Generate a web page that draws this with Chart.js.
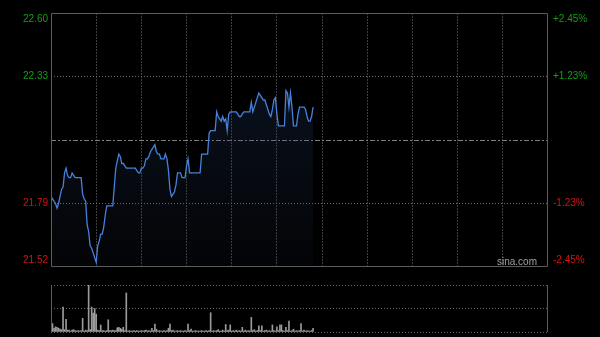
<!DOCTYPE html>
<html>
<head>
<meta charset="utf-8">
<script src="https://cdn.jsdelivr.net/npm/chart.js@4.4.1/dist/chart.umd.min.js"></script>
<style>
html, body { margin: 0; padding: 0; background: #000; }
#wrap { position: relative; width: 600px; height: 337px; background: #000; overflow: hidden; }
#priceChart { position: absolute; left: 0; top: 0; }
#volChart { position: absolute; left: 0; top: 280px; }
</style>
</head>
<body>
<div id="wrap">
  <canvas id="priceChart" width="600" height="280"></canvas>
  <canvas id="volChart" width="600" height="57"></canvas>
</div>
<script>
// HK session: 09:30-12:00 + 13:00-16:00 = 330 minutes, grid every 30 min
const sessionMinutes = 330;
const gridMinutes = [0, 30, 60, 90, 120, 150, 180, 210, 240, 270, 300, 330];

const prevClose = 22.06;
const priceTicks = [21.52, 21.79, 22.06, 22.33, 22.60];
const priceLabels = ['21.52', '21.79', '', '22.33', '22.60'];
const pctLabels = ['-2.45%', '-1.23%', '', '+1.23%', '+2.45%'];
const volTicks = [0, 50, 100];

// one value per minute
const prices = [
    21.82, 21.81, 21.80, 21.79, 21.77, 21.79, 21.82, 21.85, 21.86, 21.92,
    21.94, 21.91, 21.90, 21.90, 21.92, 21.91, 21.90, 21.90, 21.90, 21.90,
    21.90, 21.83, 21.81, 21.80, 21.70, 21.67, 21.61, 21.60, 21.58, 21.56,
    21.54, 21.61, 21.63, 21.66, 21.66, 21.69, 21.74, 21.78, 21.78, 21.78,
    21.78, 21.78, 21.86, 21.94, 21.97, 22.00, 21.99, 21.96, 21.96, 21.95,
    21.94, 21.94, 21.94, 21.94, 21.94, 21.94, 21.94, 21.93, 21.92, 21.92,
    21.94, 21.94, 21.95, 21.98, 21.98, 21.99, 22.01, 22.02, 22.03, 22.04,
    22.01, 22.00, 22.00, 21.98, 21.98, 21.98, 22.00, 21.98, 21.93, 21.85,
    21.82, 21.83, 21.84, 21.87, 21.92, 21.92, 21.92, 21.90, 21.90, 21.90,
    21.95, 21.98, 21.92, 21.92, 21.92, 21.92, 21.92, 21.92, 21.92, 21.92,
    22.00, 22.00, 22.00, 22.00, 22.00, 22.09, 22.10, 22.10, 22.10, 22.10,
    22.18, 22.16, 22.15, 22.14, 22.16, 22.14, 22.15, 22.10, 22.17, 22.18,
    22.18, 22.18, 22.18, 22.18, 22.17, 22.16, 22.16, 22.17, 22.18, 22.18,
    22.18, 22.18, 22.18, 22.22, 22.18, 22.20, 22.22, 22.24, 22.26, 22.25,
    22.24, 22.23, 22.23, 22.21, 22.19, 22.17, 22.16, 22.19, 22.23, 22.24,
    22.17, 22.12, 22.12, 22.12, 22.12, 22.12, 22.27, 22.26, 22.20, 22.26,
    22.20, 22.12, 22.12, 22.12, 22.17, 22.20, 22.20, 22.20, 22.20, 22.19,
    22.16, 22.14, 22.14, 22.16, 22.20
];

// relative volume (tallest bar = 100)
const volumes = [
    14, 18, 8, 11, 10, 8, 6, 5, 53, 5,
    27, 4, 4, 2, 4, 5, 3, 2, 3, 2,
    3, 29, 2, 4, 3, 100, 5, 53, 40, 50,
    38, 4, 3, 15, 3, 3, 2, 3, 26, 3,
    3, 4, 3, 3, 9, 10, 8, 6, 10, 3,
    83, 2, 3, 2, 2, 3, 2, 3, 2, 2,
    3, 2, 3, 4, 2, 3, 2, 8, 3, 17,
    6, 2, 3, 2, 2, 3, 2, 3, 8, 17,
    3, 4, 2, 2, 3, 2, 3, 2, 2, 3,
    2, 17, 3, 6, 2, 2, 3, 2, 2, 2,
    3, 2, 2, 3, 2, 3, 41, 2, 3, 2,
    3, 5, 2, 2, 4, 2, 16, 3, 4, 15,
    2, 3, 2, 4, 2, 3, 2, 10, 2, 4,
    2, 3, 2, 31, 3, 5, 2, 3, 13, 3,
    13, 2, 3, 4, 2, 3, 2, 15, 3, 2,
    11, 3, 15, 15, 3, 2, 10, 3, 23, 2,
    3, 6, 2, 3, 2, 3, 18, 2, 4, 2,
    3, 2, 2, 3, 8
];

const minuteLabels = prices.map((_, i) => i);

const FONT = '10px "Liberation Sans", Arial, sans-serif';
const UP = '#12a012';
const DOWN = '#d21414';

// frame around plot area + side labels
const framePlugin = {
    id: 'frame',
    afterDraw(chart, args, opts) {
        const { ctx, chartArea: a } = chart;
        ctx.save();
        ctx.strokeStyle = '#5c5c5c';
        ctx.lineWidth = 1;
        ctx.beginPath();
        if (opts.full) {
            ctx.rect(a.left + 0.5, a.top + 0.5, a.right - a.left - 1, a.bottom - a.top - 1);
        } else {
            ctx.moveTo(a.left + 0.5, a.top);
            ctx.lineTo(a.left + 0.5, a.bottom);
            ctx.moveTo(a.right - 0.5, a.top);
            ctx.lineTo(a.right - 0.5, a.bottom);
        }
        ctx.stroke();

        if (opts.labels) {
            const y = chart.scales.y;
            ctx.font = FONT;
            ctx.textBaseline = 'middle';
            priceTicks.forEach((v, i) => {
                if (!priceLabels[i]) return;
                let py = y.getPixelForValue(v);
                if (i === priceTicks.length - 1) py += 6;
                if (i === 0) py -= 7;
                ctx.fillStyle = v > prevClose ? UP : DOWN;
                ctx.textAlign = 'right';
                ctx.fillText(priceLabels[i], a.left - 3, py);
                ctx.textAlign = 'left';
                ctx.fillText(pctLabels[i], a.right + 5, py);
            });
            ctx.fillStyle = '#a0a0a0';
            ctx.textAlign = 'right';
            ctx.fillText('sina.com', a.right - 11, a.bottom - 5);
        }
        ctx.restore();
    }
};

const hiddenAxis = (extra) => Object.assign({
    ticks: { display: false },
    border: { display: false }
}, extra);

new Chart(document.getElementById('priceChart'), {
    type: 'line',
    data: {
        labels: minuteLabels,
        datasets: [{
            data: prices,
            borderColor: '#4682dc',
            borderWidth: 1.3,
            pointRadius: 0,
            tension: 0,
            fill: 'start',
            backgroundColor: (c) => {
                const { ctx, chartArea } = c.chart;
                if (!chartArea) return 'transparent';
                const g = ctx.createLinearGradient(0, chartArea.top, 0, chartArea.bottom);
                g.addColorStop(0, 'rgba(45,80,140,0.32)');
                g.addColorStop(1, 'rgba(25,35,55,0.12)');
                return g;
            }
        }]
    },
    options: {
        responsive: false,
        animation: false,
        devicePixelRatio: 1,
        events: [],
        layout: { padding: { left: 51, right: 52, top: 13, bottom: 13 } },
        plugins: { legend: { display: false }, tooltip: { enabled: false }, frame: { full: true, labels: true } },
        scales: {
            x: hiddenAxis({
                type: 'linear', min: 0, max: sessionMinutes,
                afterBuildTicks: (s) => { s.ticks = gridMinutes.map(v => ({ value: v })); },
                afterFit: (s) => { s.height = 0; },
                grid: {
                    drawTicks: false,
                    lineWidth: 1,
                    color: (c) => (c.index === 0 || c.index === gridMinutes.length - 1) ? 'rgba(0,0,0,0)' : '#3e3e3e'
                },
                border: { display: false, dash: [2, 1] }
            }),
            y: hiddenAxis({
                min: priceTicks[0], max: priceTicks[priceTicks.length - 1],
                afterBuildTicks: (s) => { s.ticks = priceTicks.map(v => ({ value: v })); },
                afterFit: (s) => { s.width = 0; },
                grid: {
                    drawTicks: false,
                    color: (c) => {
                        if (c.index === 0 || c.index === priceTicks.length - 1) return 'rgba(0,0,0,0)';
                        return c.index === 2 ? '#808080' : '#6e6e6e';
                    }
                },
                border: { display: false, dash: (c) => c.index === 2 ? [5, 2, 2, 2] : [1, 2] }
            })
        }
    },
    plugins: [framePlugin]
});

new Chart(document.getElementById('volChart'), {
    type: 'bar',
    data: {
        labels: minuteLabels,
        datasets: [{
            data: volumes,
            backgroundColor: '#9a9a9a',
            barThickness: 1
        }]
    },
    options: {
        responsive: false,
        animation: false,
        devicePixelRatio: 1,
        events: [],
        layout: { padding: { left: 51, right: 52, top: 5, bottom: 5 } },
        plugins: { legend: { display: false }, tooltip: { enabled: false }, frame: { full: false, labels: false } },
        scales: {
            x: hiddenAxis({
                type: 'linear', min: 0, max: sessionMinutes, offset: false,
                afterFit: (s) => { s.height = 0; },
                grid: { display: false }
            }),
            y: hiddenAxis({
                min: 0, max: 100,
                afterBuildTicks: (s) => { s.ticks = volTicks.map(v => ({ value: v })); },
                afterFit: (s) => { s.width = 0; },
                grid: { drawTicks: false, color: '#666666' },
                border: { display: false, dash: [1, 2] }
            })
        }
    },
    plugins: [framePlugin]
});
</script>
</body>
</html>
